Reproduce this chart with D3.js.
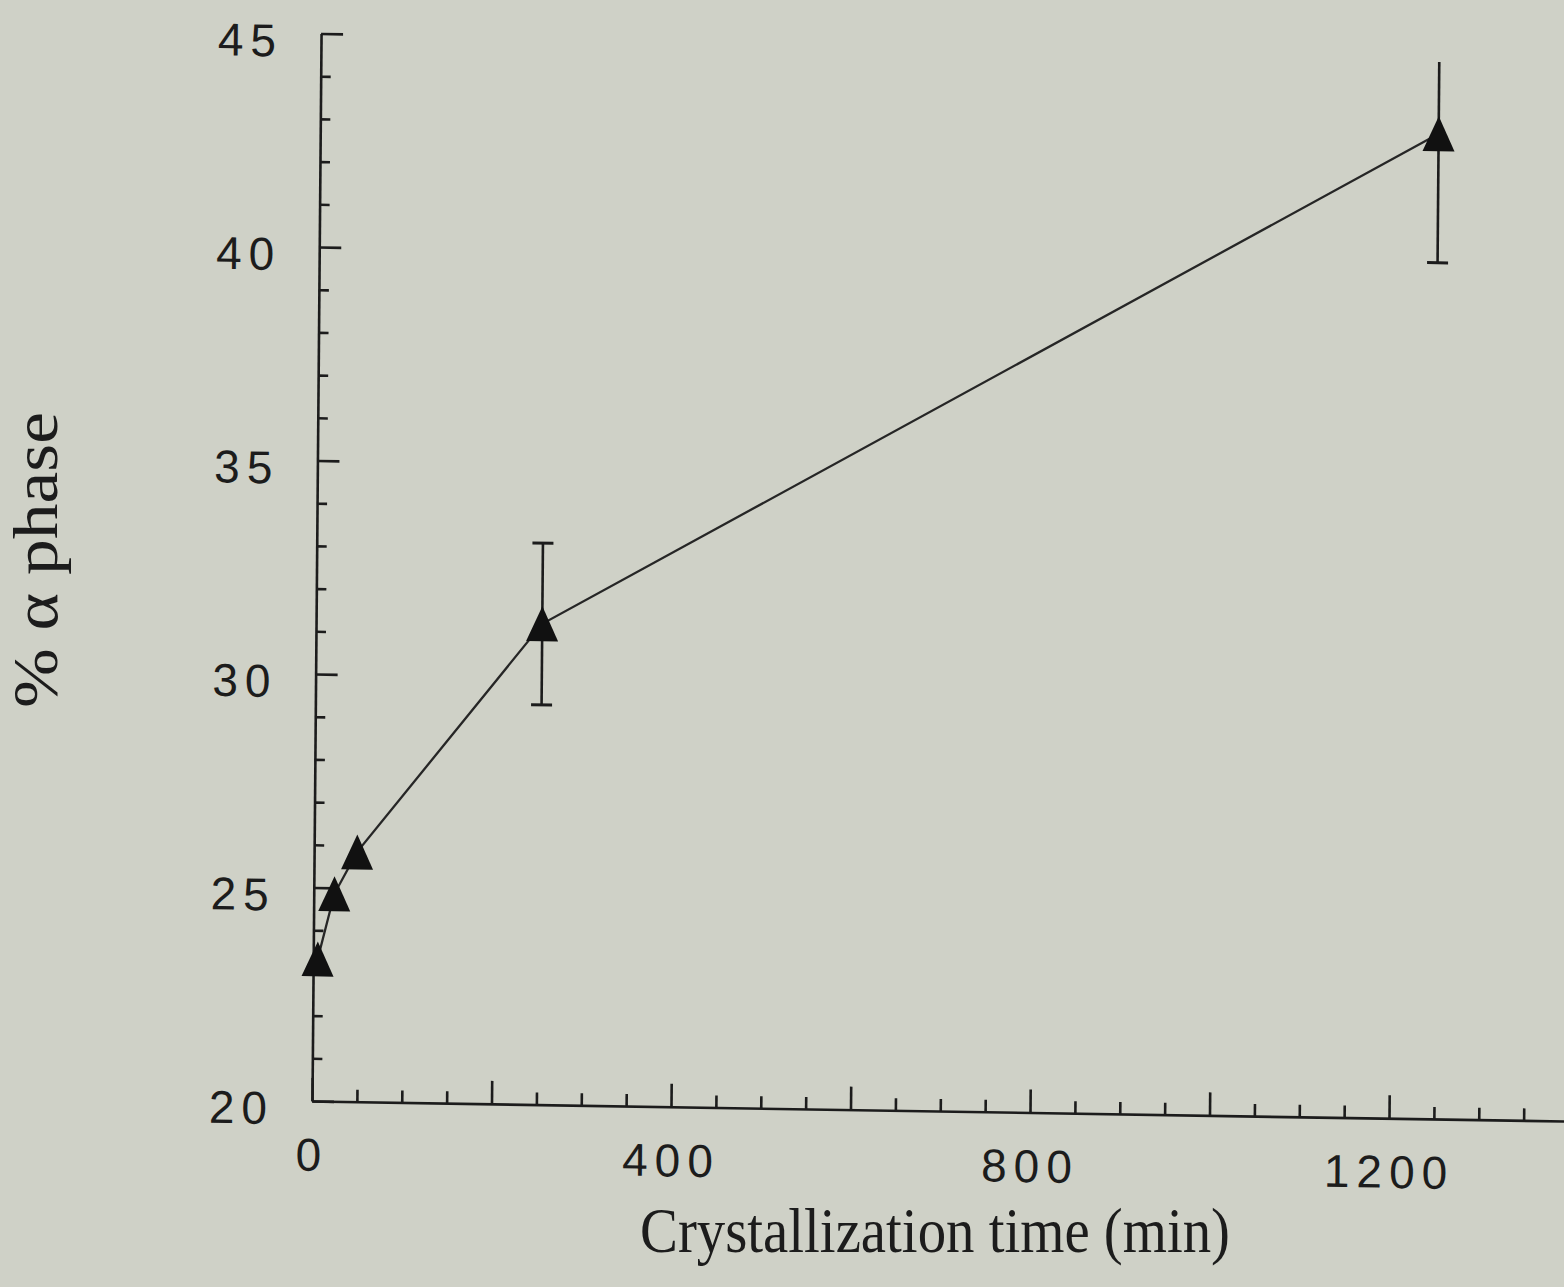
<!DOCTYPE html>
<html>
<head>
<meta charset="utf-8">
<script src="https://cdn.jsdelivr.net/npm/d3@7"></script>
<style>
  html, body { margin: 0; padding: 0; background: #cfd1c7; }
  svg { display: block; }
</style>
</head>
<body>
<svg id="chart" width="1564" height="1287"></svg>
<script>
// Crystallization time (min) vs. percentage of alpha phase
const times     = [5, 23, 48, 252, 1246];
const alphaPct  = [23.33, 24.86, 25.85, 31.26, 43.07];
// error bar extents (null = no error bar)
const errLow    = [null, null, null, 29.36, 40.05];
const errHigh   = [null, null, null, 33.15, 44.75];
const capHigh   = [false, false, false, true, false];

// axis ticks
const xMajorTicks = [0, 200, 400, 600, 800, 1000, 1200, 1400];
const xMinorTicks = [50, 100, 150, 250, 300, 350, 450, 500, 550, 650, 700, 750,
                     850, 900, 950, 1050, 1100, 1150, 1250, 1300, 1350];
const xTickLabels = ["0", "400", "800", "1200"];
const yMajorTicks = [20, 25, 30, 35, 40, 45];
const yMinorTicks = [21, 22, 23, 24, 26, 27, 28, 29, 31, 32, 33, 34,
                     36, 37, 38, 39, 41, 42, 43, 44];
const yTickLabels = ["20", "25", "30", "35", "40", "45"];

const xTitle = "Crystallization time (min)";
const yTitle = "% \u03B1 phase";

const svg = d3.select("#chart");
const ink = "#1c1c1c";

const x = d3.scaleLinear().domain([0, 1400]).range([0, 1256.5]);
const y = d3.scaleLinear().domain([20, 45]).range([0, -1067.5]);

// plot frame is slightly tilted on the page
const plot = svg.append("g")
  .attr("transform", "translate(312,1101) matrix(1,0.016,-0.0085,1,0,0)");

const tickFont = "'Liberation Sans', Arial, Helvetica, sans-serif";

// x axis
const xAxis = plot.append("g").call(
  d3.axisBottom(x).tickValues(xMajorTicks).tickSizeInner(-23).tickSizeOuter(0).tickPadding(37)
    .tickFormat(d => xTickLabels.includes(String(d)) ? String(d) : ""));
plot.append("g").call(
  d3.axisBottom(x).tickValues(xMinorTicks).tickSizeInner(-12).tickSizeOuter(0).tickFormat(""))
  .select(".domain").remove();

// y axis
const yAxis = plot.append("g").call(
  d3.axisLeft(y).tickValues(yMajorTicks).tickSizeInner(-22).tickSizeOuter(0).tickPadding(38)
    .tickFormat(d => yTickLabels.includes(String(d)) ? String(d) : ""));
plot.append("g").call(
  d3.axisLeft(y).tickValues(yMinorTicks).tickSizeInner(-10).tickSizeOuter(0).tickFormat(""))
  .select(".domain").remove();

plot.selectAll(".domain, .tick line")
  .attr("stroke", ink).attr("stroke-width", 2.6);
plot.selectAll(".tick text")
  .attr("fill", ink)
  .style("font-family", tickFont)
  .style("font-size", "46px")
  .style("letter-spacing", "7px");
yAxis.selectAll(".tick text").attr("dy", "0.5em");

// connecting line
const pts = times.map((t, i) => ({ t, v: alphaPct[i], lo: errLow[i], hi: errHigh[i], cap: capHigh[i] }));
plot.append("path")
  .datum(pts)
  .attr("fill", "none")
  .attr("stroke", "#262626")
  .attr("stroke-width", 2.3)
  .attr("d", d3.line().x(d => x(d.t)).y(d => y(d.v)));

// error bars
const eb = plot.append("g").attr("stroke", ink);
pts.filter(d => d.lo !== null).forEach(d => {
  eb.append("line")
    .attr("x1", x(d.t)).attr("x2", x(d.t))
    .attr("y1", y(d.lo)).attr("y2", y(d.hi))
    .attr("stroke-width", 2.6);
  eb.append("line")
    .attr("x1", x(d.t) - 10.5).attr("x2", x(d.t) + 10.5)
    .attr("y1", y(d.lo)).attr("y2", y(d.lo))
    .attr("stroke-width", 3);
  if (d.cap) {
    eb.append("line")
      .attr("x1", x(d.t) - 10.5).attr("x2", x(d.t) + 10.5)
      .attr("y1", y(d.hi)).attr("y2", y(d.hi))
      .attr("stroke-width", 3);
  }
});

// filled triangle markers
const tri = "M0,-17.5L16,17.5L-16,17.5Z";
plot.append("g").selectAll("path")
  .data(pts)
  .join("path")
  .attr("d", tri)
  .attr("transform", d => `translate(${x(d.t)},${y(d.v)})`)
  .attr("fill", "#111");

// axis titles
const titleFont = "'Liberation Serif', 'Times New Roman', Times, serif";
svg.append("text")
  .attr("x", 935).attr("y", 1252)
  .attr("text-anchor", "middle")
  .attr("textLength", 590)
  .attr("lengthAdjust", "spacingAndGlyphs")
  .style("font-family", titleFont)
  .style("font-size", "64px")
  .attr("fill", ink)
  .text(xTitle);

svg.append("text")
  .attr("transform", "translate(57,560) rotate(-90)")
  .attr("text-anchor", "middle")
  .attr("textLength", 296)
  .attr("lengthAdjust", "spacingAndGlyphs")
  .style("font-family", titleFont)
  .style("font-size", "64px")
  .attr("fill", ink)
  .text(yTitle);
</script>
</body>
</html>
